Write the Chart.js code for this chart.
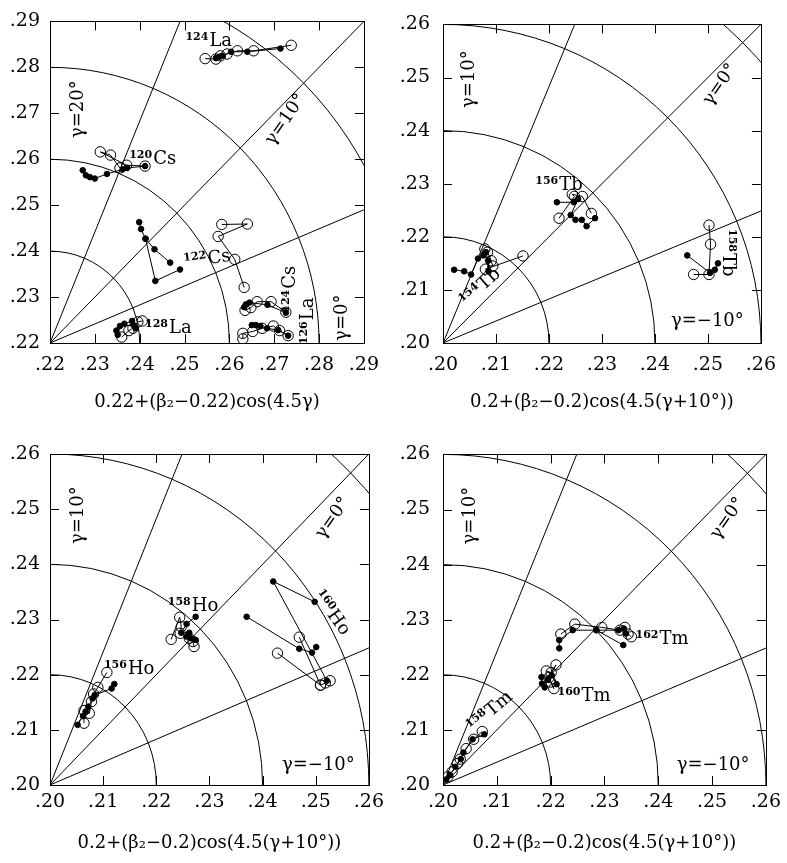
<!DOCTYPE html>
<html>
<head>
<meta charset="utf-8">
<script src="https://cdn.jsdelivr.net/npm/chart.js@4.4.0/dist/chart.umd.min.js"></script>
<style>
  body { margin: 0; background: #fff; }
  #wrap { position: relative; width: 787px; height: 863px; }
  canvas { position: absolute; }
</style>
</head>
<body>
<div id="wrap">
  <canvas id="c1" width="390" height="430" style="left:0;top:0"></canvas>
  <canvas id="c2" width="397" height="430" style="left:390px;top:0"></canvas>
  <canvas id="c3" width="390" height="433" style="left:0;top:430px"></canvas>
  <canvas id="c4" width="397" height="433" style="left:390px;top:430px"></canvas>
</div>
<script>
// guide circles (beta2 - offset) and rays (4.5*gamma, degrees)
const ringRadii = [0.02, 0.04, 0.06, 0.08];
const rayAngles = [22.5, 45, 67.5];

// ---- panel 1: Cs / La ----  [x, y], null = break in line
const la124Filled = [[.2570,.2820],[.2577,.2823],[.2584,.2825],[.2604,.2834],[.2640,.2834],[.2714,.2841]];
const la124Open = [[.2546,.2819],[.2570,.2818],[.2580,.2825],[.2595,.2829],[.2618,.2836],[.2654,.2836],[.2738,.2848]];
const cs120Filled = [[.2273,.2576],[.2280,.2565],[.2289,.2561],[.2300,.2558],[.2327,.2568],[.2362,.2578],[.2372,.2581],[.2412,.2585]];
const cs120Open = [[.2412,.2585],[.2371,.2587],[.2312,.2616],[.2335,.2609],[.2356,.2581]];
const cs122Filled = [[.2399,.2463],[.2403,.2448],[.2413,.2427],[.2433,.2404],[.2468,.2375],null,[.2413,.2427],[.2435,.2335],[.2490,.2360]];
const cs122Open = [[.2583,.2458],[.2640,.2459],[.2575,.2432],[.2612,.2382],[.2633,.2321]];
const cs124Filled = [[.2633,.2278],[.2637,.2284],[.2645,.2288],[.2685,.2283],[.2726,.2266]];
const cs124Open = [[.2635,.2271],[.2648,.2277],[.2662,.2290],[.2693,.2290],[.2726,.2267]];
const la126Filled = [[.2650,.2239],[.2659,.2239],[.2669,.2237],[.2684,.2232],[.2709,.2228],[.2731,.2216]];
const la126Open = [[.2630,.2209],[.2630,.2221],[.2652,.2225],[.2673,.2232],[.2698,.2237],[.2712,.2227],[.2731,.2216]];
const la128Filled = [[.2348,.2227],[.2351,.2218],[.2356,.2237],[.2366,.2242],[.2383,.2248],[.2386,.2239],[.2391,.2232]];
const la128Open = [[.2360,.2213],[.2376,.2227],[.2385,.2232],[.2396,.2246],[.2406,.2248]];

// ---- panel 2: Tb ----
const tb154Filled = [[.2021,.2138],[.2040,.2135],[.2053,.2129],[.2066,.2159],[.2076,.2165],[.2081,.2171],[.2085,.2155],[.2086,.2135]];
const tb154Open = [[.2079,.2177],[.2084,.2171],[.2091,.2155],[.2094,.2145],[.2080,.2139],[.2151,.2164]];
const tb156Filled = [[.2215,.2265],[.2247,.2265],[.2255,.2271],[.2241,.2241],[.2250,.2232],[.2262,.2232],[.2271,.2220],[.2287,.2235]];
const tb156Open = [[.2219,.2235],[.2248,.2276],[.2244,.2280],[.2263,.2276],[.2280,.2244]];
const tb158Filled = [[.2461,.2165],[.2504,.2132],[.2513,.2138],[.2519,.2150]];
const tb158Open = [[.2473,.2129],[.2502,.2129],[.2505,.2186],[.2502,.2222]];

// ---- panel 3: Ho ----
const ho156Filled = [[.2052,.2109],[.2062,.2125],[.2067,.2133],[.2072,.2142],[.2080,.2157],[.2084,.2163],[.2116,.2175],[.2121,.2183]];
const ho156Open = [[.2064,.2112],[.2064,.2135],[.2074,.2130],[.2078,.2151],[.2082,.2165],[.2090,.2177],[.2107,.2204]];
const ho158Filled = [[.2274,.2305],[.2257,.2292],[.2247,.2276],[.2262,.2276],[.2265,.2266],[.2274,.2263],[.2257,.2269]];
const ho158Open = [[.2228,.2264],[.2244,.2304],[.2247,.2287],[.2245,.2275],[.2262,.2266],[.2269,.2260],[.2271,.2251]];
const ho160Filled = [[.2498,.2332],[.2420,.2369],[.2521,.2189],null,[.2370,.2305],[.2469,.2247],[.2493,.2240],[.2501,.2250]];
const ho160Open = [[.2469,.2268],[.2509,.2181],null,[.2428,.2239],[.2509,.2181],[.2518,.2185],[.2527,.2189]];

// ---- panel 4: Tm ----
const tm158Filled = [[.2006,.2010],[.2013,.2018],[.2023,.2033],[.2033,.2047],[.2038,.2059],[.2055,.2083],[.2077,.2092]];
const tm158Open = [[.2009,.2015],[.2017,.2024],[.2027,.2039],[.2032,.2047],[.2043,.2066],[.2057,.2083],[.2073,.2097]];
const tm160Filled = [[.2183,.2196],[.2184,.2184],[.2189,.2177],[.2195,.2192],[.2202,.2199],[.2211,.2183]];
const tm160Open = [[.2192,.2207],[.2201,.2204],[.2210,.2218],[.2197,.2195],[.2206,.2175],[.2200,.2187]];
const tm162Filled = [[.2216,.2248],[.2216,.2263],[.2241,.2281],[.2285,.2281],[.2326,.2281],[.2336,.2284],[.2340,.2275],null,[.2285,.2281],[.2335,.2254]];
const tm162Open = [[.2219,.2274],[.2245,.2292],[.2295,.2286],[.2329,.2281],[.2338,.2286],[.2344,.2274],[.2350,.2269]];

const FONT = '"DejaVu Serif", "Liberation Serif", serif';

// text placed on each panel: isotope names and gamma labels (position in axis units, rotation in degrees)
const panelText = {
  c1: [
    { m: '124', s: 'La', x: .2554, y: .2861, r: 0 },
    { m: '120', s: 'Cs', x: .2429, y: .2605, r: 0 },
    { m: '122', s: 'Cs', x: .2550, y: .2387, r: -8 },
    { m: '124', s: 'Cs', x: .2730, y: .2317, r: -90 },
    { m: '126', s: 'La', x: .2770, y: .2248, r: -90 },
    { m: '128', s: 'La', x: .2464, y: .2238, r: 0 },
    { t: 'γ=20°', x: .2260, y: .2709, r: -90 },
    { t: 'γ=10°', x: .2723, y: .2688, r: -55 },
    { t: 'γ=0°', x: .2849, y: .2255, r: -90 }
  ],
  c2: [
    { m: '156', s: 'Tb', x: .2219, y: .2302, r: 0 },
    { m: '154', s: 'Tb', x: .2068, y: .2108, r: -42 },
    { m: '158', s: 'Tb', x: .2542, y: .2170, r: 90 },
    { t: 'γ=10°', x: .2048, y: .2497, r: -90 },
    { t: 'γ=0°', x: .2521, y: .2488, r: -55 },
    { t: 'γ=−10°', x: .2499, y: .2044, r: 0 }
  ],
  c3: [
    { m: '156', s: 'Ho', x: .2149, y: .2213, r: 0 },
    { m: '158', s: 'Ho', x: .2269, y: .2328, r: 0 },
    { m: '160', s: 'Ho', x: .2533, y: .2314, r: 54 },
    { t: 'γ=10°', x: .2050, y: .2489, r: -90 },
    { t: 'γ=0°', x: .2530, y: .2485, r: -55 },
    { t: 'γ=−10°', x: .2505, y: .2038, r: 0 }
  ],
  c4: [
    { m: '158', s: 'Tm', x: .2085, y: .2136, r: -40 },
    { m: '160', s: 'Tm', x: .2262, y: .2166, r: 0 },
    { m: '162', s: 'Tm', x: .2407, y: .2269, r: 0 },
    { t: 'γ=10°', x: .2048, y: .2489, r: -90 },
    { t: 'γ=0°', x: .2527, y: .2485, r: -55 },
    { t: 'γ=−10°', x: .2502, y: .2039, r: 0 }
  ]
};

const guides = {
  id: 'guides',
  beforeDatasetsDraw(chart) {
    const { ctx, chartArea: a, scales: { x, y } } = chart;
    const cx = x.getPixelForValue(x.min), cy = y.getPixelForValue(y.min);
    ctx.save();
    ctx.beginPath();
    ctx.rect(a.left, a.top, a.width, a.height);
    ctx.clip();
    ctx.strokeStyle = '#000';
    ctx.lineWidth = 1;
    ringRadii.forEach(r => {
      const rx = x.getPixelForValue(x.min + r) - cx;
      const ry = cy - y.getPixelForValue(y.min + r);
      ctx.beginPath();
      ctx.ellipse(cx, cy, rx, ry, 0, -Math.PI / 2, 0);
      ctx.stroke();
    });
    rayAngles.forEach(d => {
      const t = d * Math.PI / 180;
      ctx.beginPath();
      ctx.moveTo(cx, cy);
      ctx.lineTo(x.getPixelForValue(x.min + Math.cos(t)), y.getPixelForValue(y.min + Math.sin(t)));
      ctx.stroke();
    });
    ctx.restore();
  },
  afterDatasetsDraw(chart) {
    const { ctx, chartArea: a, scales: { x, y } } = chart;
    ctx.save();
    ctx.strokeStyle = '#000';
    ctx.lineWidth = 1;
    ctx.strokeRect(Math.round(a.left) + 0.5, Math.round(a.top) + 0.5, Math.round(a.width), Math.round(a.height));
    // inward tick marks on all four sides
    const tl = 9;
    ctx.beginPath();
    x.ticks.forEach(t => {
      const px = Math.round(x.getPixelForValue(t.value)) + 0.5;
      ctx.moveTo(px, a.bottom); ctx.lineTo(px, a.bottom - tl);
      ctx.moveTo(px, a.top); ctx.lineTo(px, a.top + tl);
    });
    y.ticks.forEach(t => {
      const py = Math.round(y.getPixelForValue(t.value)) + 0.5;
      ctx.moveTo(a.left, py); ctx.lineTo(a.left + tl, py);
      ctx.moveTo(a.right, py); ctx.lineTo(a.right - tl, py);
    });
    ctx.stroke();

    ctx.fillStyle = '#000';
    (panelText[chart.canvas.id] || []).forEach(l => {
      ctx.save();
      ctx.translate(x.getPixelForValue(l.x), y.getPixelForValue(l.y));
      ctx.rotate(l.r * Math.PI / 180);
      ctx.textAlign = 'left';
      ctx.textBaseline = 'alphabetic';
      if (l.t) {
        ctx.font = '18px ' + FONT;
        const w = ctx.measureText(l.t).width;
        ctx.fillText(l.t, -w / 2, 6);
      } else {
        const mFont = 'bold 11px ' + FONT, sFont = '18px ' + FONT;
        ctx.font = mFont;
        const wm = ctx.measureText(l.m).width + 1;
        ctx.font = sFont;
        const ws = ctx.measureText(l.s).width;
        const x0 = -(wm + ws) / 2;
        ctx.font = mFont;
        ctx.fillText(l.m, x0, 1);
        ctx.font = sFont;
        ctx.fillText(l.s, x0 + wm, 7);
      }
      ctx.restore();
    });
    ctx.restore();
  }
};

const toPts = arr => arr.map(p => p ? { x: p[0], y: p[1] } : { x: null, y: null });

function dots(arr) {
  return {
    data: toPts(arr), showLine: true, spanGaps: false,
    borderColor: '#000', borderWidth: 1,
    pointRadius: 2.8, pointBackgroundColor: '#000', pointBorderColor: '#000', pointBorderWidth: 1,
    pointHoverRadius: 2.8
  };
}
function rings(arr) {
  return {
    data: toPts(arr), showLine: true, spanGaps: false,
    borderColor: '#000', borderWidth: 1,
    pointRadius: 5.2, pointBackgroundColor: 'rgba(255,255,255,0)', pointBorderColor: '#000', pointBorderWidth: 1,
    pointHoverRadius: 5.2
  };
}

const fmt = v => Number(v).toFixed(2).slice(1);

function makeChart(id, cfg) {
  const datasets = [];
  cfg.series.forEach(s => datasets.push(dots(s[0])));
  cfg.series.forEach(s => datasets.push(rings(s[1])));
  const tickFont = { family: FONT, size: 19 };
  return new Chart(document.getElementById(id), {
    type: 'scatter',
    data: { datasets },
    options: {
      responsive: false,
      animation: false,
      devicePixelRatio: 1,
      layout: { padding: cfg.pad },
      plugins: { legend: { display: false }, tooltip: { enabled: false } },
      scales: {
        x: {
          type: 'linear', min: cfg.min, max: cfg.max,
          grid: { display: false, drawTicks: false },
          border: { display: false },
          ticks: { stepSize: 0.01, callback: fmt, font: tickFont, color: '#000', padding: cfg.xPad, maxRotation: 0, autoSkip: false },
          title: { display: true, text: cfg.title, font: { family: FONT, size: 18 }, color: '#000', padding: 0 },
          afterFit: s => { s.height = cfg.xh; }
        },
        y: {
          type: 'linear', min: cfg.min, max: cfg.max,
          grid: { display: false, drawTicks: false },
          border: { display: false },
          ticks: { stepSize: 0.01, callback: fmt, font: tickFont, color: '#000', padding: cfg.yPad, autoSkip: false },
          afterFit: s => { s.width = cfg.yw; }
        }
      }
    },
    plugins: [guides]
  });
}

const titleA = '0.22+(β₂−0.22)cos(4.5γ)';
const titleB = '0.2+(β₂−0.2)cos(4.5(γ+10°))';

makeChart('c1', {
  min: 0.22, max: 0.29, title: titleA,
  pad: { left: 0, right: 12, top: 13, bottom: 17 }, xh: 70, yw: 50, xPad: 11, yPad: 10,
  series: [[la124Filled, la124Open], [cs120Filled, cs120Open], [cs122Filled, cs122Open],
           [cs124Filled, cs124Open], [la126Filled, la126Open], [la128Filled, la128Open]]
});
makeChart('c2', {
  min: 0.20, max: 0.26, title: titleB,
  pad: { left: 0, right: 15, top: 13, bottom: 17 }, xh: 70, yw: 53, xPad: 11, yPad: 13,
  series: [[tb154Filled, tb154Open], [tb156Filled, tb156Open], [tb158Filled, tb158Open]]
});
makeChart('c3', {
  min: 0.20, max: 0.26, title: titleB,
  pad: { left: 0, right: 12, top: 24, bottom: 9 }, xh: 69, yw: 50, xPad: 6, yPad: 10,
  series: [[ho156Filled, ho156Open], [ho158Filled, ho158Open], [ho160Filled, ho160Open]]
});
makeChart('c4', {
  min: 0.20, max: 0.26, title: titleB,
  pad: { left: 0, right: 15, top: 24, bottom: 9 }, xh: 69, yw: 53, xPad: 6, yPad: 13,
  series: [[tm158Filled, tm158Open], [tm160Filled, tm160Open], [tm162Filled, tm162Open]]
});
</script>
</body>
</html>
